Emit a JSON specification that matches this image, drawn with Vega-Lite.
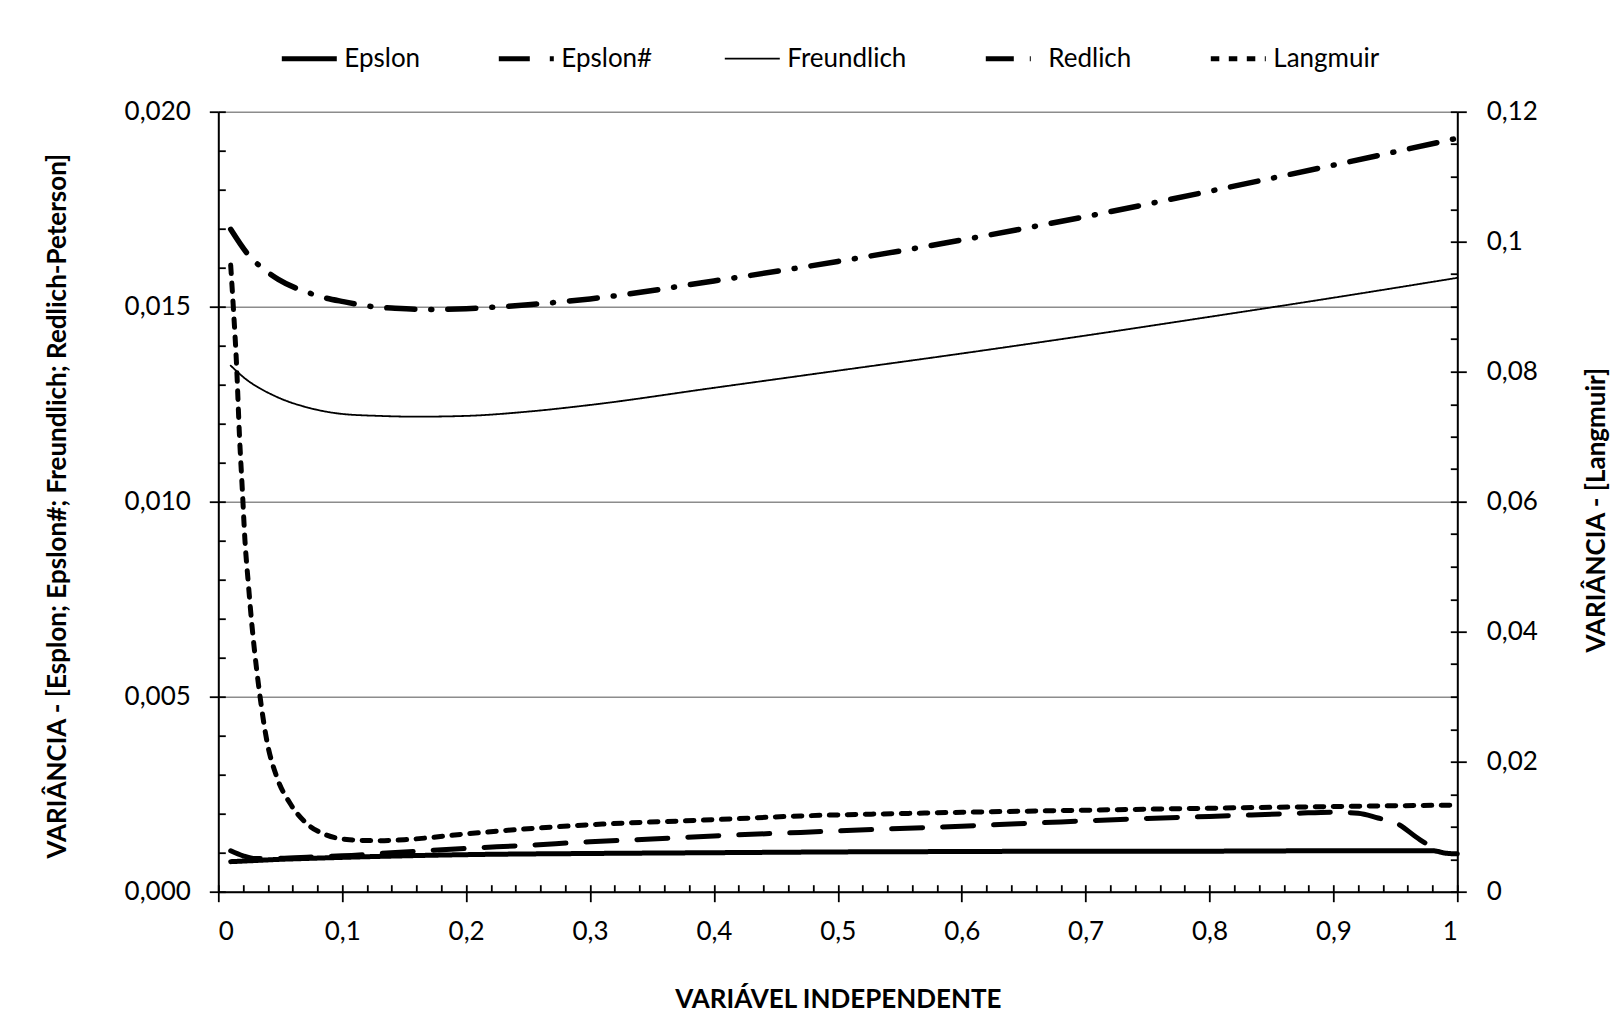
{
  "$schema": "https://vega.github.io/schema/vega-lite/v6.json",
  "width": 1239,
  "height": 780,
  "autosize": "none",
  "padding": {"left": 218.3, "top": 111.7, "right": 156.5, "bottom": 125.3},
  "background": "white",
  "config": {
    "font": "Lato",
    "view": {"stroke": null},
    "axis": {"labelFont": "Lato", "labelFontSize": 26, "labelColor": "black", "titleFont": "Lato", "titleFontSize": 26, "titleFontWeight": "bold", "titleColor": "black", "domainColor": "black", "domainWidth": 2, "tickColor": "black", "tickWidth": 1.8}
  },
  "data": {"values": [
    {"s": "Epslon", "x": 0.01, "v": 0.00077},
    {"s": "Epslon", "x": 0.03, "v": 0.0008},
    {"s": "Epslon", "x": 0.05, "v": 0.00083},
    {"s": "Epslon", "x": 0.075, "v": 0.000856},
    {"s": "Epslon", "x": 0.1, "v": 0.00088},
    {"s": "Epslon", "x": 0.15, "v": 0.00092},
    {"s": "Epslon", "x": 0.2, "v": 0.00095},
    {"s": "Epslon", "x": 0.3, "v": 0.00098},
    {"s": "Epslon", "x": 0.4, "v": 0.001},
    {"s": "Epslon", "x": 0.5, "v": 0.00102},
    {"s": "Epslon", "x": 0.6, "v": 0.00103},
    {"s": "Epslon", "x": 0.7, "v": 0.00104},
    {"s": "Epslon", "x": 0.8, "v": 0.00104},
    {"s": "Epslon", "x": 0.9, "v": 0.00105},
    {"s": "Epslon", "x": 0.95, "v": 0.00105},
    {"s": "Epslon", "x": 0.98, "v": 0.00105},
    {"s": "Epslon", "x": 0.99, "v": 0.00099},
    {"s": "Epslon", "x": 1.0, "v": 0.00097},
    {"s": "Epslon#", "x": 0.01, "v": 0.00105},
    {"s": "Epslon#", "x": 0.02, "v": 0.00092},
    {"s": "Epslon#", "x": 0.03, "v": 0.00085},
    {"s": "Epslon#", "x": 0.05, "v": 0.00086},
    {"s": "Epslon#", "x": 0.075, "v": 0.00089},
    {"s": "Epslon#", "x": 0.1, "v": 0.00092},
    {"s": "Epslon#", "x": 0.15, "v": 0.00102},
    {"s": "Epslon#", "x": 0.2, "v": 0.00111},
    {"s": "Epslon#", "x": 0.25, "v": 0.00119},
    {"s": "Epslon#", "x": 0.3, "v": 0.00128},
    {"s": "Epslon#", "x": 0.35, "v": 0.00135},
    {"s": "Epslon#", "x": 0.4, "v": 0.00143},
    {"s": "Epslon#", "x": 0.47, "v": 0.00152},
    {"s": "Epslon#", "x": 0.55, "v": 0.00162},
    {"s": "Epslon#", "x": 0.6, "v": 0.00168},
    {"s": "Epslon#", "x": 0.68, "v": 0.00179},
    {"s": "Epslon#", "x": 0.75, "v": 0.00188},
    {"s": "Epslon#", "x": 0.8, "v": 0.00193},
    {"s": "Epslon#", "x": 0.87, "v": 0.00201},
    {"s": "Epslon#", "x": 0.9, "v": 0.00204},
    {"s": "Epslon#", "x": 0.92, "v": 0.00201},
    {"s": "Epslon#", "x": 0.936, "v": 0.00189},
    {"s": "Epslon#", "x": 0.95, "v": 0.00177},
    {"s": "Epslon#", "x": 0.97, "v": 0.00133},
    {"s": "Epslon#", "x": 0.985, "v": 0.00105},
    {"s": "Freundlich", "x": 0.01, "v": 0.01349},
    {"s": "Freundlich", "x": 0.02, "v": 0.0132},
    {"s": "Freundlich", "x": 0.047, "v": 0.01269},
    {"s": "Freundlich", "x": 0.074, "v": 0.0124},
    {"s": "Freundlich", "x": 0.1, "v": 0.01225},
    {"s": "Freundlich", "x": 0.13, "v": 0.0122},
    {"s": "Freundlich", "x": 0.16, "v": 0.01218},
    {"s": "Freundlich", "x": 0.2, "v": 0.0122},
    {"s": "Freundlich", "x": 0.25, "v": 0.01231},
    {"s": "Freundlich", "x": 0.3, "v": 0.01248},
    {"s": "Freundlich", "x": 0.4, "v": 0.01292},
    {"s": "Freundlich", "x": 0.5, "v": 0.01336},
    {"s": "Freundlich", "x": 0.6, "v": 0.0138},
    {"s": "Freundlich", "x": 0.7, "v": 0.01426},
    {"s": "Freundlich", "x": 0.8, "v": 0.01474},
    {"s": "Freundlich", "x": 0.9, "v": 0.01523},
    {"s": "Freundlich", "x": 1.0, "v": 0.01574},
    {"s": "Redlich", "x": 0.01, "v": 0.016985},
    {"s": "Redlich", "x": 0.0256, "v": 0.01628},
    {"s": "Redlich", "x": 0.0363, "v": 0.01597},
    {"s": "Redlich", "x": 0.0484, "v": 0.0157},
    {"s": "Redlich", "x": 0.0726, "v": 0.01536},
    {"s": "Redlich", "x": 0.0869, "v": 0.01522},
    {"s": "Redlich", "x": 0.1009, "v": 0.01513},
    {"s": "Redlich", "x": 0.1278, "v": 0.01499},
    {"s": "Redlich", "x": 0.1426, "v": 0.01496},
    {"s": "Redlich", "x": 0.17, "v": 0.01493},
    {"s": "Redlich", "x": 0.2, "v": 0.01495},
    {"s": "Redlich", "x": 0.25, "v": 0.01505},
    {"s": "Redlich", "x": 0.3, "v": 0.0152},
    {"s": "Redlich", "x": 0.4, "v": 0.01566},
    {"s": "Redlich", "x": 0.5, "v": 0.01616},
    {"s": "Redlich", "x": 0.6, "v": 0.01671},
    {"s": "Redlich", "x": 0.7, "v": 0.01731},
    {"s": "Redlich", "x": 0.8, "v": 0.01796},
    {"s": "Redlich", "x": 0.9, "v": 0.01863},
    {"s": "Redlich", "x": 1.0, "v": 0.01932},
    {"s": "Langmuir", "x": 0.01, "v": 0.0964},
    {"s": "Langmuir", "x": 0.0121, "v": 0.09},
    {"s": "Langmuir", "x": 0.0148, "v": 0.0808},
    {"s": "Langmuir", "x": 0.017, "v": 0.0705},
    {"s": "Langmuir", "x": 0.0194, "v": 0.0618},
    {"s": "Langmuir", "x": 0.0215, "v": 0.0541},
    {"s": "Langmuir", "x": 0.0242, "v": 0.0475},
    {"s": "Langmuir", "x": 0.027, "v": 0.0413},
    {"s": "Langmuir", "x": 0.031, "v": 0.0341},
    {"s": "Langmuir", "x": 0.0337, "v": 0.03},
    {"s": "Langmuir", "x": 0.0391, "v": 0.0233},
    {"s": "Langmuir", "x": 0.0471, "v": 0.0177},
    {"s": "Langmuir", "x": 0.0579, "v": 0.0136},
    {"s": "Langmuir", "x": 0.0713, "v": 0.0105},
    {"s": "Langmuir", "x": 0.0875, "v": 0.0087},
    {"s": "Langmuir", "x": 0.106, "v": 0.008},
    {"s": "Langmuir", "x": 0.128, "v": 0.00785},
    {"s": "Langmuir", "x": 0.15, "v": 0.008},
    {"s": "Langmuir", "x": 0.2, "v": 0.0089},
    {"s": "Langmuir", "x": 0.23, "v": 0.0094},
    {"s": "Langmuir", "x": 0.31, "v": 0.0104},
    {"s": "Langmuir", "x": 0.39, "v": 0.011},
    {"s": "Langmuir", "x": 0.47, "v": 0.01165},
    {"s": "Langmuir", "x": 0.57, "v": 0.0121},
    {"s": "Langmuir", "x": 0.71, "v": 0.01257},
    {"s": "Langmuir", "x": 0.85, "v": 0.01298},
    {"s": "Langmuir", "x": 0.92, "v": 0.01315},
    {"s": "Langmuir", "x": 1.0, "v": 0.01333}
  ]},
  "resolve": {"scale": {"y": "independent"}, "axis": {"x": "independent", "y": "independent"}},
  "layer": [
    {
      "transform": [{"filter": "datum.s !== 'Langmuir'"}],
      "mark": {"type": "line", "interpolate": "monotone", "strokeCap": "round", "strokeJoin": "round"},
      "encoding": {
        "x": {"field": "x", "type": "quantitative", "scale": {"domain": [0, 1], "nice": false},
          "axis": {"values": [0, 0.1, 0.2, 0.3, 0.4, 0.5, 0.6, 0.7, 0.8, 0.9, 1], "labelExpr": "replace(format(datum.value, '.1~f'), '.', ',')", "tickSize": 10, "labelPadding": 17, "grid": false, "title": "VARIÁVEL INDEPENDENTE", "titleX": 619.5, "titleY": 108, "titleBaseline": "middle", "titleAlign": "center"}},
        "y": {"field": "v", "type": "quantitative", "scale": {"domain": [0, 0.02], "nice": false, "zero": true},
          "axis": {"orient": "left", "values": [0, 0.005, 0.01, 0.015, 0.02], "labelExpr": "replace(format(datum.value, '.3f'), '.', ',')", "tickSize": 9, "labelPadding": 19, "grid": true, "gridColor": "#8c8c8c", "gridWidth": 1.6, "title": "VARIÂNCIA - [Esplon; Epslon#; Freundlich; Redlich-Peterson]", "titleX": -161, "titleY": 394, "titleAngle": 270, "titleBaseline": "middle", "titleAlign": "center"}},
        "color": {"field": "s", "type": "nominal", "scale": {"domain": ["Epslon", "Epslon#", "Freundlich", "Redlich", "Langmuir"], "range": ["black", "black", "black", "black", "black"]},
          "legend": {"title": null, "orient": "none", "legendX": 61, "legendY": -83, "direction": "horizontal", "columns": 5, "columnPadding": 68, "symbolType": "stroke", "symbolSize": 3025, "labelFontSize": 26, "labelFont": "Lato", "labelColor": "black", "labelOffset": 5, "padding": 0, "symbolStrokeColor": "black",
            "encode": {"symbols": {"update": {"strokeWidth": {"signal": "(datum.value === 'Freundlich' ? 1.8 : 5)"}}}}}},
        "strokeDash": {"field": "s", "type": "nominal", "scale": {"domain": ["Epslon", "Epslon#", "Freundlich", "Redlich", "Langmuir"], "range": [[1, 0], [31, 20], [1, 0], [28, 16, 1, 16], [8.5, 9.5]]},
          "legend": {"title": null, "orient": "none", "legendX": 61, "legendY": -83, "direction": "horizontal", "columns": 5, "columnPadding": 68, "symbolType": "stroke", "symbolSize": 3025, "labelFontSize": 26, "labelFont": "Lato", "labelColor": "black", "labelOffset": 5, "padding": 0, "symbolStrokeColor": "black",
            "encode": {"symbols": {"update": {"strokeWidth": {"signal": "(datum.value === 'Freundlich' ? 1.8 : 5)"}}}}}},
        "strokeWidth": {"condition": [{"test": "datum.s === 'Freundlich'", "value": 1.8}, {"test": "datum.s === 'Redlich'", "value": 5.5}], "value": 5}
      }
    },
    {
      "transform": [{"filter": "datum.s === 'Epslon'"}],
      "mark": {"type": "line", "opacity": 0},
      "encoding": {
        "x": {"field": "x", "type": "quantitative", "scale": {"domain": [0, 1], "nice": false},
          "axis": {"orient": "bottom", "values": [0, 0.02, 0.04, 0.06, 0.08, 0.1, 0.12, 0.14, 0.16, 0.18, 0.2, 0.22, 0.24, 0.26, 0.28, 0.3, 0.32, 0.34, 0.36, 0.38, 0.4, 0.42, 0.44, 0.46, 0.48, 0.5, 0.52, 0.54, 0.56, 0.58, 0.6, 0.62, 0.64, 0.66, 0.68, 0.7, 0.72, 0.74, 0.76, 0.78, 0.8, 0.82, 0.84, 0.86, 0.88, 0.9, 0.92, 0.94, 0.96, 0.98, 1], "tickSize": -7, "labels": false, "domain": false, "grid": false, "title": null}},
        "y": {"field": "v", "type": "quantitative", "scale": {"domain": [0, 0.02], "nice": false},
          "axis": {"orient": "left", "values": [0, 0.001, 0.002, 0.003, 0.004, 0.005, 0.006, 0.007, 0.008, 0.009, 0.01, 0.011, 0.012, 0.013, 0.014, 0.015, 0.016, 0.017, 0.018, 0.019, 0.02], "tickSize": -7, "labels": false, "domain": false, "grid": false, "title": null}}
      }
    },
    {
      "transform": [{"filter": "datum.s === 'Langmuir'"}],
      "mark": {"type": "line", "interpolate": "monotone", "strokeCap": "round", "strokeJoin": "round", "strokeWidth": 5},
      "encoding": {
        "x": {"field": "x", "type": "quantitative", "scale": {"domain": [0, 1], "nice": false}, "axis": null},
        "y": {"field": "v", "type": "quantitative", "scale": {"domain": [0, 0.12], "nice": false},
          "axis": {"orient": "right", "values": [0, 0.02, 0.04, 0.06, 0.08, 0.1, 0.12], "labelExpr": "replace(format(datum.value, '.2~f'), '.', ',')", "tickSize": 9, "labelPadding": 20, "grid": false, "title": "VARIÂNCIA - [Langmuir]", "titleX": 139, "titleY": 398, "titleAngle": 270, "titleBaseline": "middle", "titleAlign": "center"}},
        "color": {"field": "s", "type": "nominal"},
        "strokeDash": {"field": "s", "type": "nominal"}
      }
    },
    {
      "transform": [{"filter": "datum.s === 'Langmuir'"}],
      "mark": {"type": "line", "opacity": 0},
      "encoding": {
        "x": {"field": "x", "type": "quantitative", "scale": {"domain": [0, 1], "nice": false}, "axis": null},
        "y": {"field": "v", "type": "quantitative", "scale": {"domain": [0, 0.12], "nice": false},
          "axis": {"orient": "right", "values": [0, 0.005, 0.01, 0.015, 0.02, 0.025, 0.03, 0.035, 0.04, 0.045, 0.05, 0.055, 0.06, 0.065, 0.07, 0.075, 0.08, 0.085, 0.09, 0.095, 0.1, 0.105, 0.11, 0.115, 0.12], "tickSize": -7, "labels": false, "domain": false, "grid": false, "title": null}}
      }
    }
  ]
}
